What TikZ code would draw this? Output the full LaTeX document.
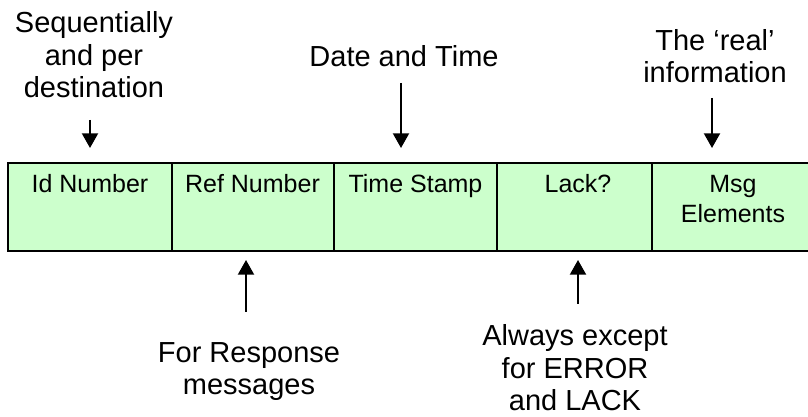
\documentclass[tikz,border=0pt]{standalone}
\usepackage{fontspec}
\setmainfont{Liberation Sans}
\usetikzlibrary{arrows.meta}
\definecolor{cellgreen}{HTML}{CCFFCC}
\begin{document}
\begin{tikzpicture}[x=0.75pt,y=-0.75pt,
  cell/.style={draw=black, line width=2pt, fill=cellgreen, anchor=north west,
    minimum height=66pt, inner sep=0pt, outer sep=0pt},
  celltext/.style={anchor=base, align=center, inner sep=0pt,
    font=\fontsize{18.75}{22.5}\selectfont},
  lbl/.style={anchor=base, align=center, inner sep=0pt,
    font=\fontsize{21.75}{24.6}\selectfont},
  arr/.style={line width=1.5pt, -{Triangle[width=12pt,length=11pt]}}]
\path[use as bounding box] (0,0) rectangle (808,417);
\clip (0,0) rectangle (808,417);

% message fields
\node[cell, minimum width=123pt]   (id)   at (8,163)   {};
\node[cell, minimum width=121.5pt] (ref)  at (172,163) {};
\node[cell, minimum width=122.25pt](time) at (334,163) {};
\node[cell, minimum width=116.25pt](lack) at (497,163) {};
\node[cell, minimum width=127.5pt] (msg)  at (652,163) {};

% field names (base anchor sits on the last line)
\node[celltext] (idt)   at (90,193)  {Id Number};
\node[celltext] (reft)  at (252.5,193) {Ref Number};
\node[celltext] (timet) at (415.5,193) {Time Stamp};
\node[celltext] (lackt) at (578,193) {Lack?};
\node[celltext] (msgt)  at (733,223) {Msg\\Elements};

% annotations
\node[lbl] (seq)    at (94,98)   {Sequentially\\and per\\destination};
\node[lbl] (date)   at (404,67)  {Date and Time};
\node[lbl] (real)   at (715,83)  {The ‘real’\\information};
\node[lbl] (resp)   at (249,395) {For Response\\messages};
\node[lbl] (always) at (575,411) {Always except\\for ERROR\\and LACK};

% pointers
\coordinate (p1) at (90,120);
\coordinate (p2) at (401,83);
\coordinate (p3) at (712,98);
\coordinate (p4) at (246,312);
\coordinate (p5) at (578,304);
\draw[arr, shorten >=11.25pt] (p1) -- (p1 |- id.north);
\draw[arr, shorten >=11.25pt] (p2) -- (p2 |- time.north);
\draw[arr, shorten >=11.25pt] (p3) -- (p3 |- msg.north);
\draw[arr, shorten >=6.75pt]  (p4) -- (p4 |- ref.south);
\draw[arr, shorten >=6.75pt]  (p5) -- (p5 |- lack.south);
\end{tikzpicture}
\end{document}
